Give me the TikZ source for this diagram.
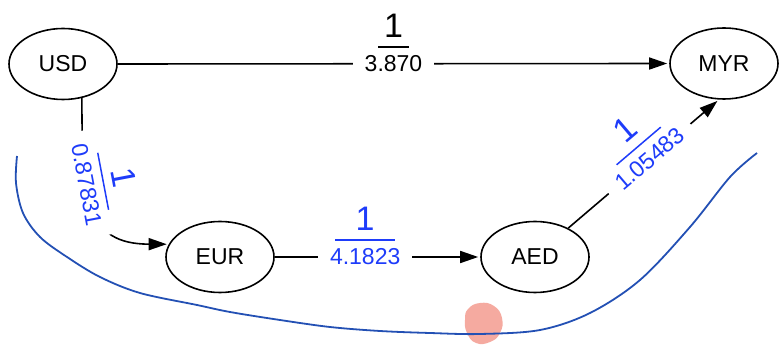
\documentclass[tikz,border=0pt]{standalone}
\usepackage{fontspec}
\setmainfont{Liberation Sans}
\usetikzlibrary{arrows.meta,calc,positioning,shapes.geometric}

\definecolor{rateblue}{RGB}{30,60,250}
\definecolor{penblue}{RGB}{35,80,180}
\definecolor{markpink}{RGB}{245,170,160}

\newcommand{\numfont}{\fontsize{34}{40}\selectfont}
% numerator over a short bar over the rate, baseline through the middle of the rate
\newcommand{\ratio}[3]{\raisebox{-8pt}{\vbox{\offinterlineskip
  \halign{\hfil##\hfil\cr\numfont #1\cr\noalign{\kern9pt}\rule{#3}{1.5pt}\cr\noalign{\kern8pt}#2\cr}}}}

\begin{document}
\begin{tikzpicture}[x=1pt,y=1pt,
  cur/.style={draw,ellipse,line width=1.6pt,minimum width=108pt,minimum height=71pt,
    inner sep=0pt,font=\fontsize{23}{27}\selectfont},
  conv/.style={line width=1.6pt,-{Triangle[length=18pt,width=12pt]},shorten >=2pt},
  rate/.style={fill=white,inner xsep=12pt,inner ysep=2pt,anchor=base,
    font=\fontsize{23}{27}\selectfont}]
  \useasboundingbox (0,0) rectangle (784,345);

  \node[cur] (usd) at (63,281) {USD};
  \node[cur] (myr) at (724,281.5) {MYR};
  \node[cur] (eur) at (220,88) {EUR};
  \node[cur] (aed) at (535,88) {AED};

  \draw[conv] (usd.east) -- node[rate] {\ratio{1}{3.870}{31pt}} (myr.west);
  \draw[conv] (usd.-61) .. controls (82,145) and (86,101) .. (eur.166)
    node[rate,text=rateblue,sloped,pos=0.35] {\ratio{1}{0.87831}{58pt}};
  \draw[conv] (eur.east) -- node[rate,text=rateblue,pos=0.44] {\ratio{1}{4.1823}{60pt}} (aed.west);
  \draw[conv] (aed.41) -- node[rate,text=rateblue,sloped,pos=0.54] {\ratio{1}{1.05483}{58pt}} (myr.-98);

  % pen stroke and marker dot
  \fill[markpink] plot[smooth cycle,tension=0.8] coordinates
    {(468,36) (480,42) (494,39) (502,27) (500,12) (490,3) (476,2) (467,12) (465,25)};
  \draw[penblue,line width=1.8pt] plot[smooth,tension=0.55] coordinates
    {(17,189) (16,162) (23,132) (40,108) (67,88) (100,68) (140,52) (197,40) (230,33)
     (280,25) (330,18) (380,14) (430,12) (480,11) (540,15) (590,32) (640,65) (690,118)
     (730,168) (757,192)};
\end{tikzpicture}
\end{document}
